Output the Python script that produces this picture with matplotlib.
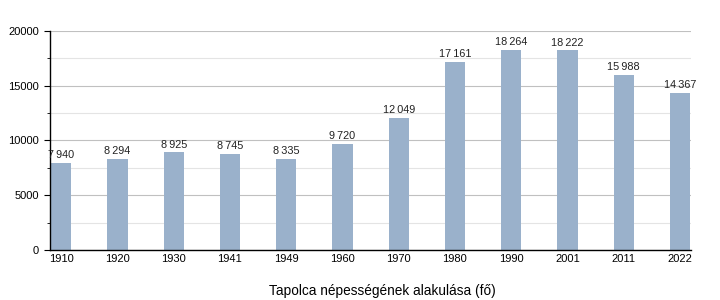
import matplotlib
matplotlib.use("Agg")
import matplotlib.pyplot as plt
import numpy as np
from matplotlib.ticker import MultipleLocator

plt.rcParams['font.family'] = ['Liberation Sans', 'DejaVu Sans']

# Census years and population of Tapolca
years = ["1910", "1920", "1930", "1941", "1949", "1960",
         "1970", "1980", "1990", "2001", "2011", "2022"]
population = [7940, 8294, 8925, 8745, 8335, 9720,
              12049, 17161, 18264, 18222, 15988, 14367]

fig = plt.figure(figsize=(7.2, 3.0), dpi=100)
ax = fig.add_axes([0.0694, 0.1667, 0.8906, 0.73])

x = np.arange(len(years))
ax.bar(x, population, width=0.36, color="#9ab1cb", zorder=2)

# value labels with thin-space thousands separator
for xi, val in zip(x, population):
    label = f"{val:,}".replace(",", "\u2009")
    ax.text(xi, val + 250, label, ha="center", va="bottom", fontsize=7.8, color="#222222")

ax.set_xlim(-0.2, len(years) - 0.8)
ax.set_ylim(0, 20000)
ax.set_xticks(x)
ax.set_xticklabels(years)
ax.yaxis.set_major_locator(MultipleLocator(5000))
ax.yaxis.set_minor_locator(MultipleLocator(2500))
ax.grid(axis="y", which="major", color="#c0c0c0", linewidth=0.8, zorder=0)
ax.grid(axis="y", which="minor", color="#e4e4e4", linewidth=0.8, zorder=0)

ax.tick_params(axis="x", length=0, labelsize=8, pad=3)
ax.tick_params(axis="y", which="major", length=4, labelsize=8, pad=4)
ax.tick_params(axis="y", which="minor", length=2)

for side in ["top", "right"]:
    ax.spines[side].set_visible(False)
ax.spines["left"].set_linewidth(1.0)
ax.spines["bottom"].set_linewidth(1.0)

ax.set_xlabel("Tapolca népességének alakulása (fő)", fontsize=9.8, labelpad=14)
ax.xaxis.set_label_coords(0.518, -0.155)

fig.savefig("out.png", dpi=100)
